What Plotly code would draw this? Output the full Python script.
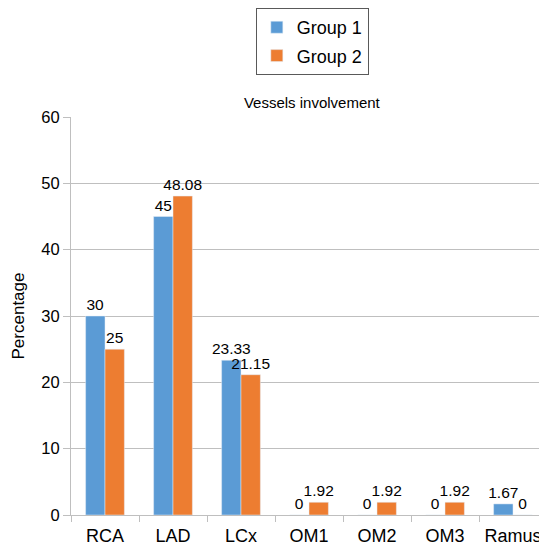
import plotly.graph_objects as go

categories = ["RCA", "LAD", "LCx", "OM1", "OM2", "OM3", "Ramus"]
group1 = [30, 45, 23.33, 0, 0, 0, 1.67]
group2 = [25, 48.08, 21.15, 1.92, 1.92, 1.92, 0]
group1_labels = ["30", "45", "23.33", "0", "0", "0", "1.67"]
group2_labels = ["25", "48.08", "21.15", "1.92", "1.92", "1.92", "0"]

fig = go.Figure()
fig.add_trace(go.Bar(x=categories, y=group1, name="Group 1", marker_color="#5B9BD5",
                     legendgroup="g1",
                     text=group1_labels, textposition="outside", cliponaxis=False,
                     constraintext="none",
                     textfont=dict(size=15.5, color="#000000")))
fig.add_trace(go.Bar(x=categories, y=group2, name="Group 2", marker_color="#ED7D31",
                     legendgroup="g2",
                     text=group2_labels, textposition="outside", cliponaxis=False,
                     constraintext="none",
                     textfont=dict(size=15.5, color="#000000")))

fig.update_layout(
    width=547, height=547,
    margin=dict(l=63, r=8, t=109, b=40, autoexpand=False),
    paper_bgcolor="white", plot_bgcolor="white",
    barmode="group", bargap=0.43, bargroupgap=0,
    font=dict(family="Liberation Sans, Arial, sans-serif", color="#000000"),
    title=dict(text="Vessels involvement", x=0.506, xanchor="center", xref="paper",
               y=1 - 95 / 547, yref="container", yanchor="middle", font=dict(size=15)),
    showlegend=True,
    legend=dict(x=0.507, xanchor="center", y=1.1055, yanchor="bottom",
                bordercolor="#595959", borderwidth=1, font=dict(size=18),
                bgcolor="white", tracegroupgap=2),
    uniformtext=dict(mode=False),
)
fig.update_yaxes(range=[0, 60], dtick=10, showgrid=True, gridcolor="#BFBFBF", gridwidth=1,
                 showline=True, linecolor="#BFBFBF", ticks="outside", ticklen=7,
                 tickcolor="#BFBFBF", tickfont=dict(size=16.5), zeroline=False,
                 automargin=False,
                 title=dict(text="Percentage", font=dict(size=17), standoff=12))
fig.update_xaxes(showline=True, linecolor="#BFBFBF", ticks="outside", tickson="boundaries",
                 ticklen=6, tickcolor="#BFBFBF", tickfont=dict(size=18), automargin=False,
                 ticklabelstandoff=4)

fig.write_html("out.html")
